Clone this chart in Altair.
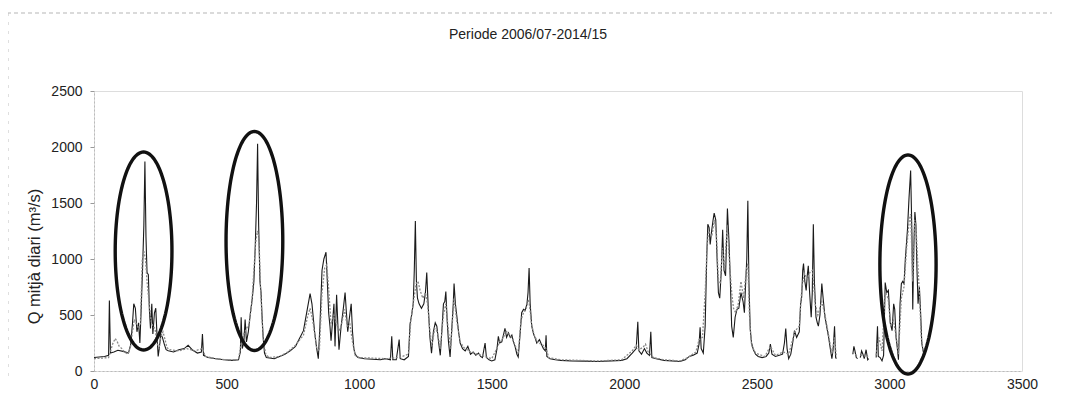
import altair as alt
import numpy as np
import pandas as pd

# ---- data (day index, Q m3/s); None marks a gap ----
BLACK = [(0,120),(20,125),(40,130),(55,140),(58,630),(62,160),(75,170),(90,185),(110,175),(130,160),(138,230),(145,420),(150,600),(156,560),(162,350),(168,430),(173,250),(178,560),(183,900),(188,1300),(192,1870),(196,1200),(200,880),(205,860),(209,540),(213,380),(218,600),(222,330),(228,520),(233,560),(238,300),(242,130),(246,200),(252,330),(258,300),(265,240),(272,190),(280,180),(300,170),(320,190),(340,200),(355,230),(370,190),(390,160),(405,170),(409,330),(413,140),(430,120),(460,110),(490,100),(520,95),(545,100),(552,170),(555,480),(559,200),(565,250),(570,460),(575,260),(582,350),(590,520),(597,650),(603,800),(608,1100),(613,1500),(617,2030),(621,1300),(626,800),(630,700),(634,480),(638,300),(643,160),(650,120),(680,110),(700,130),(720,150),(740,180),(760,220),(775,290),(790,360),(805,560),(815,690),(822,600),(832,350),(840,200),(846,110),(852,400),(860,900),(867,1000),(875,1060),(880,800),(885,520),(890,400),(894,270),(900,450),(905,600),(909,220),(915,680),(920,400),(924,190),(932,400),(940,550),(947,700),(952,520),(957,350),(962,450),(970,600),(975,350),(980,200),(985,150),(995,120),(1020,110),(1050,105),(1080,100),(1100,110),(1118,100),(1123,310),(1127,100),(1140,100),(1151,280),(1155,110),(1170,100),(1186,130),(1192,420),(1198,500),(1204,600),(1208,900),(1212,1340),(1216,800),(1220,650),(1226,600),(1235,560),(1244,600),(1250,700),(1255,880),(1260,600),(1267,300),(1273,160),(1280,350),(1287,430),(1293,400),(1300,250),(1306,140),(1313,400),(1318,600),(1323,620),(1327,710),(1332,450),(1337,260),(1343,125),(1350,400),(1355,600),(1358,780),(1363,600),(1368,500),(1375,350),(1381,250),(1390,200),(1400,180),(1410,220),(1420,150),(1430,170),(1440,140),(1450,160),(1458,130),(1465,120),(1475,250),(1480,120),(1490,100),(1500,90),(1512,100),(1520,200),(1525,310),(1530,250),(1538,260),(1545,330),(1550,380),(1556,300),(1563,340),(1570,300),(1576,320),(1582,260),(1588,220),(1595,150),(1600,125),(1606,300),(1613,520),(1620,550),(1626,540),(1633,600),(1637,700),(1641,920),(1645,600),(1651,400),(1658,330),(1663,300),(1670,250),(1680,280),(1689,230),(1695,200),(1702,180),(1705,320),(1708,130),(1720,110),(1740,100),(1760,95),(1800,90),(1850,88),(1900,85),(1950,90),(1990,95),(2010,110),(2030,160),(2045,200),(2051,440),(2055,180),(2065,150),(2076,200),(2085,160),(2095,140),(2100,350),(2104,120),(2120,110),(2150,95),(2180,90),(2210,85),(2230,100),(2245,130),(2260,140),(2275,160),(2282,240),(2286,390),(2290,200),(2298,160),(2305,400),(2311,1020),(2315,1310),(2320,1280),(2324,1130),(2330,1260),(2335,1350),(2339,1410),(2345,1350),(2350,1000),(2355,700),(2360,650),(2366,900),(2371,1260),(2376,900),(2382,850),(2389,1450),(2395,1150),(2400,800),(2405,400),(2411,300),(2418,480),(2425,550),(2432,560),(2440,700),(2448,620),(2453,520),(2458,800),(2462,1000),(2466,1520),(2470,800),(2475,370),(2480,250),(2487,190),(2495,150),(2505,130),(2520,120),(2535,130),(2545,160),(2551,240),(2557,150),(2570,130),(2585,140),(2597,150),(2604,250),(2609,380),(2614,200),(2620,110),(2628,150),(2635,250),(2642,360),(2650,300),(2660,350),(2665,600),(2669,660),(2673,900),(2676,960),(2681,800),(2686,720),(2690,850),(2694,940),(2699,700),(2705,480),(2709,700),(2713,1310),(2717,800),(2723,480),(2728,430),(2732,400),(2738,500),(2745,780),(2750,650),(2757,480),(2763,400),(2770,310),(2777,200),(2783,110),(2788,200),(2793,400),(2797,120),(2800,110),None,(2862,150),(2866,220),(2870,180),(2875,120),(2880,110),None,(2890,120),(2895,180),(2900,150),(2905,110),(2912,190),(2918,100),(2922,110),None,(2950,120),(2955,400),(2958,130),(2965,120),(2972,90),(2978,140),(2984,790),(2990,700),(2996,720),(3003,430),(3010,360),(3016,600),(3020,550),(3025,300),(3030,200),(3034,100),(3040,600),(3045,780),(3050,800),(3055,780),(3060,1000),(3068,1260),(3074,1550),(3080,1790),(3085,1200),(3088,550),(3092,1100),(3096,1420),(3100,1300),(3104,900),(3108,600),(3113,750),(3118,500),(3122,250),(3127,180),(3132,130)]

GRAY = [(0,110),(30,115),(55,120),(62,170),(70,240),(80,290),(88,260),(95,220),(105,200),(115,170),(128,150),(138,220),(145,350),(152,460),(160,420),(168,380),(175,420),(182,1000),(188,1070),(194,1000),(200,800),(208,600),(215,450),(222,400),(230,380),(238,250),(245,200),(252,300),(260,350),(268,280),(275,210),(285,190),(320,180),(350,200),(380,180),(409,200),(420,130),(460,110),(500,100),(545,100),(555,250),(565,330),(575,380),(585,420),(595,600),(603,900),(610,1150),(616,1250),(622,1200),(628,750),(634,450),(640,250),(648,150),(660,120),(700,130),(730,170),(760,230),(790,320),(805,480),(815,560),(825,450),(840,200),(850,180),(860,700),(870,920),(878,950),(886,700),(894,420),(905,500),(915,420),(925,360),(935,430),(945,550),(955,400),(965,420),(975,260),(985,140),(1000,120),(1100,110),(1150,120),(1186,150),(1195,450),(1205,620),(1215,780),(1222,800),(1230,720),(1240,650),(1250,700),(1258,600),(1266,380),(1274,220),(1285,380),(1295,350),(1306,200),(1318,500),(1327,600),(1337,350),(1345,200),(1358,650),(1368,450),(1381,260),(1395,210),(1420,170),(1460,140),(1500,110),(1515,180),(1530,260),(1545,300),(1552,360),(1565,330),(1578,290),(1590,220),(1600,150),(1610,450),(1620,520),(1630,560),(1640,640),(1650,420),(1660,320),(1675,250),(1690,240),(1705,200),(1715,120),(1760,100),(1900,90),(1990,100),(2030,180),(2045,230),(2055,190),(2070,210),(2080,240),(2090,170),(2110,120),(2150,100),(2210,90),(2240,120),(2270,170),(2282,280),(2295,300),(2305,700),(2312,1100),(2318,1250),(2330,1200),(2340,1350),(2348,1200),(2355,800),(2362,780),(2370,1100),(2378,900),(2388,1300),(2396,1000),(2405,700),(2412,560),(2420,520),(2430,600),(2440,800),(2450,650),(2460,900),(2466,960),(2472,500),(2480,230),(2495,160),(2530,130),(2551,220),(2570,140),(2600,170),(2620,150),(2635,280),(2645,360),(2660,400),(2670,750),(2680,870),(2690,820),(2700,880),(2710,900),(2720,600),(2730,500),(2745,620),(2757,500),(2770,330),(2783,150),(2793,300),(2800,120),None,(2862,170),(2880,130),None,(2890,140),(2920,130),None,(2950,140),(2960,300),(2972,180),(2984,700),(2995,650),(3005,400),(3015,450),(3025,320),(3034,150),(3045,650),(3055,750),(3065,1100),(3075,1350),(3080,1400),(3088,800),(3095,1350),(3100,1300),(3106,1000),(3113,700),(3120,300),(3126,200),(3132,130)]

# highlighted flood events: centre day, centre Q, half-width (days), half-height (Q)
ELL_CX = [187, 605, 3070]
ELL_CY = [1071, 1161, 951]
ELL_RX = [107, 107, 106]
ELL_RY = [884, 978, 978]

X_TICKS = [0, 500, 1000, 1500, 2000, 2500, 3000, 3500]
Y_TICKS = [0, 500, 1000, 1500, 2000, 2500]

TITLE = "Periode 2006/07-2014/15"
Y_TITLE = "Q mitjà diari (m³/s)"
FONT = "Liberation Sans"


def to_frame(points):
    rows, seg = [], 0
    for p in points:
        if p is None:
            seg += 1
            continue
        rows.append({"day": p[0], "q": p[1], "seg": seg})
    return pd.DataFrame(rows)


black_df = to_frame(BLACK)
gray_df = to_frame(GRAY)

t = np.linspace(0, 2 * np.pi, 121)
ell_rows = []
for i, (cx, cy, rx, ry) in enumerate(zip(ELL_CX, ELL_CY, ELL_RX, ELL_RY)):
    for k, a in enumerate(t):
        ell_rows.append({"day": cx + rx * np.cos(a), "q": cy + ry * np.sin(a), "id": i, "k": k})
ell_df = pd.DataFrame(ell_rows)

xscale = alt.Scale(domain=[0, 3500], nice=False, zero=False)
yscale = alt.Scale(domain=[0, 2500], nice=False)

xaxis = alt.Axis(values=X_TICKS, format="d", grid=False, ticks=False, labelPadding=6,
                 labelFontSize=14, labelFont=FONT, labelColor="#222", labelFlush=False,
                 domainColor="#bbbbbb", domainDash=[2, 2], title=None)
yaxis = alt.Axis(values=Y_TICKS, format="d", grid=False, tickSize=4, tickColor="#999999",
                 labelPadding=8, labelFontSize=14, labelFont=FONT, labelColor="#222",
                 domainColor="#bbbbbb", domainDash=[2, 2],
                 title=Y_TITLE, titleFont=FONT, titleFontSize=16.5, titleFontWeight="normal",
                 titleColor="#222", titleX=-52, titleY=165, titleAlign="center",
                 titleAngle=-90)

black = alt.Chart(black_df).mark_line(color="#1a1a1a", strokeWidth=1.1).encode(
    x=alt.X("day:Q", scale=xscale, axis=xaxis),
    y=alt.Y("q:Q", scale=yscale, axis=yaxis),
    detail="seg:N",
    order="day:Q",
)

gray = alt.Chart(gray_df).mark_line(color="#8a8a8a", strokeWidth=1.3, strokeDash=[2, 1.5]).encode(
    x=alt.X("day:Q", scale=xscale),
    y=alt.Y("q:Q", scale=yscale),
    detail="seg:N",
    order="day:Q",
)

ellipses = alt.Chart(ell_df).mark_line(color="#111111", strokeWidth=3.4).encode(
    x=alt.X("day:Q", scale=xscale),
    y=alt.Y("q:Q", scale=yscale),
    detail="id:N",
    order="k:Q",
)

one = pd.DataFrame({"a": [0]})
border_top = alt.Chart(one).mark_rule(color="#b5b5b5", strokeDash=[4, 3], strokeWidth=1).encode(
    x=alt.value(-87), x2=alt.value(958), y=alt.value(-78))
border_left = alt.Chart(one).mark_rule(color="#c0c0c0", strokeDash=[3, 6], strokeWidth=1).encode(
    x=alt.value(-86), y=alt.value(-78), y2=alt.value(290))

title = alt.Chart(one).mark_text(font=FONT, fontSize=14, color="#222", align="center",
                                 baseline="middle").encode(
    x=alt.value(434), y=alt.value(-56), text=alt.value(TITLE))

chart = alt.layer(border_top, border_left, title, black, gray, ellipses).properties(
    width=928,
    height=280,
    padding={"left": 86, "top": 83, "right": 38, "bottom": 37},
    autosize=alt.AutoSizeParams(type="none"),
).configure_view(stroke=None).configure(background="white")

chart.save("out.html", embed_options={"renderer": "svg", "actions": False})
